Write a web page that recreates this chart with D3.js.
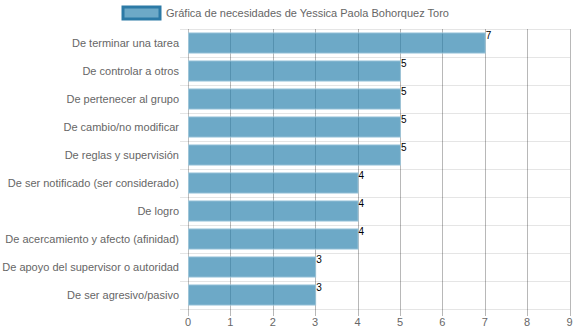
<!DOCTYPE html>
<html>
<head>
<meta charset="utf-8">
<script src="https://cdn.jsdelivr.net/npm/d3@7/dist/d3.min.js"></script>
<style>
  html, body { margin: 0; padding: 0; background: #fff; }
  svg { display: block; font-family: "Liberation Sans", Arial, sans-serif; }
</style>
</head>
<body>
<svg id="chart" width="575" height="334"></svg>
<script>
// Necesidades y puntuación
const categories = [
  "De terminar una tarea",
  "De controlar a otros",
  "De pertenecer al grupo",
  "De cambio/no modificar",
  "De reglas y supervisión",
  "De ser notificado (ser considerado)",
  "De logro",
  "De acercamiento y afecto (afinidad)",
  "De apoyo del supervisor o autoridad",
  "De ser agresivo/pasivo"
];
const values = [7, 5, 5, 5, 5, 4, 4, 4, 3, 3];
const xTicks = [0, 1, 2, 3, 4, 5, 6, 7, 8, 9];
const seriesLabel = "Gráfica de necesidades de Yessica Paola Bohorquez Toro";

const svg = d3.select("#chart");
const margin = { top: 29, right: 5, bottom: 25, left: 188 };
const width = 575, height = 334;
const plotW = width - margin.left - margin.right;
const plotH = height - margin.top - margin.bottom;

const x = d3.scaleLinear().domain([0, 9]).range([0, plotW - 0.5]);
const y = d3.scaleBand().domain(categories).range([0, plotH]);

const barFill = "rgba(34,125,170,0.66)";
const barStroke = "rgba(160,200,220,0.9)";
const legendStroke = "#2c7aa6";
const labelSize = 11;

const g = svg.append("g").attr("transform", `translate(${margin.left},${margin.top})`);

// horizontal grid lines at category boundaries (with tick marks left of the axis)
const bounds = categories.map(c => y(c)).concat([plotH]);
g.append("g").selectAll("line").data(bounds).join("line")
  .attr("x1", -8).attr("x2", plotW)
  .attr("y1", d => Math.round(d) + 0.5).attr("y2", d => Math.round(d) + 0.5)
  .attr("stroke", "rgba(0,0,0,0.1)").attr("stroke-width", 1);

// vertical grid lines
g.append("g").selectAll("line").data(xTicks).join("line")
  .attr("x1", d => Math.round(x(d)) + 0.5).attr("x2", d => Math.round(x(d)) + 0.5)
  .attr("y1", 0).attr("y2", plotH + 7)
  .attr("stroke", d => d === 0 ? "rgba(0,0,0,0.25)" : "rgba(0,0,0,0.28)")
  .attr("stroke-width", 1);

// bars
const barH = y.bandwidth() * 0.72;
g.append("g").selectAll("rect").data(values).join("rect")
  .attr("x", x(0) + 0.5)
  .attr("y", (d, i) => y(categories[i]) + (y.bandwidth() - barH) / 2)
  .attr("width", d => x(d) - x(0))
  .attr("height", barH)
  .attr("fill", barFill)
  .attr("stroke", barStroke)
  .attr("stroke-width", 1);

// value labels
g.append("g").selectAll("text").data(values).join("text")
  .attr("x", d => x(d) + 1)
  .attr("y", (d, i) => y(categories[i]) + y.bandwidth() / 2 - 4)
  .attr("font-size", 10)
  .attr("fill", "#000")
  .text(d => d);

// category labels
g.append("g").selectAll("text").data(categories).join("text")
  .attr("x", -9)
  .attr("y", d => y(d) + y.bandwidth() / 2)
  .attr("dy", "0.35em")
  .attr("text-anchor", "end")
  .attr("font-size", labelSize)
  .attr("fill", "#666")
  .text(d => d);

// x tick labels
g.append("g").selectAll("text").data(xTicks).join("text")
  .attr("x", d => x(d))
  .attr("y", plotH + 17)
  .attr("text-anchor", "middle")
  .attr("font-size", labelSize)
  .attr("fill", "#666")
  .text(d => d);

// legend
const legend = svg.append("g");
legend.append("rect")
  .attr("x", 123).attr("y", 7).attr("width", 37).attr("height", 12)
  .attr("fill", barFill).attr("stroke", legendStroke).attr("stroke-width", 3);
legend.append("text")
  .attr("x", 166).attr("y", 13).attr("dy", "0.35em")
  .attr("font-size", labelSize).attr("fill", "#666")
  .text(seriesLabel);
</script>
</body>
</html>
